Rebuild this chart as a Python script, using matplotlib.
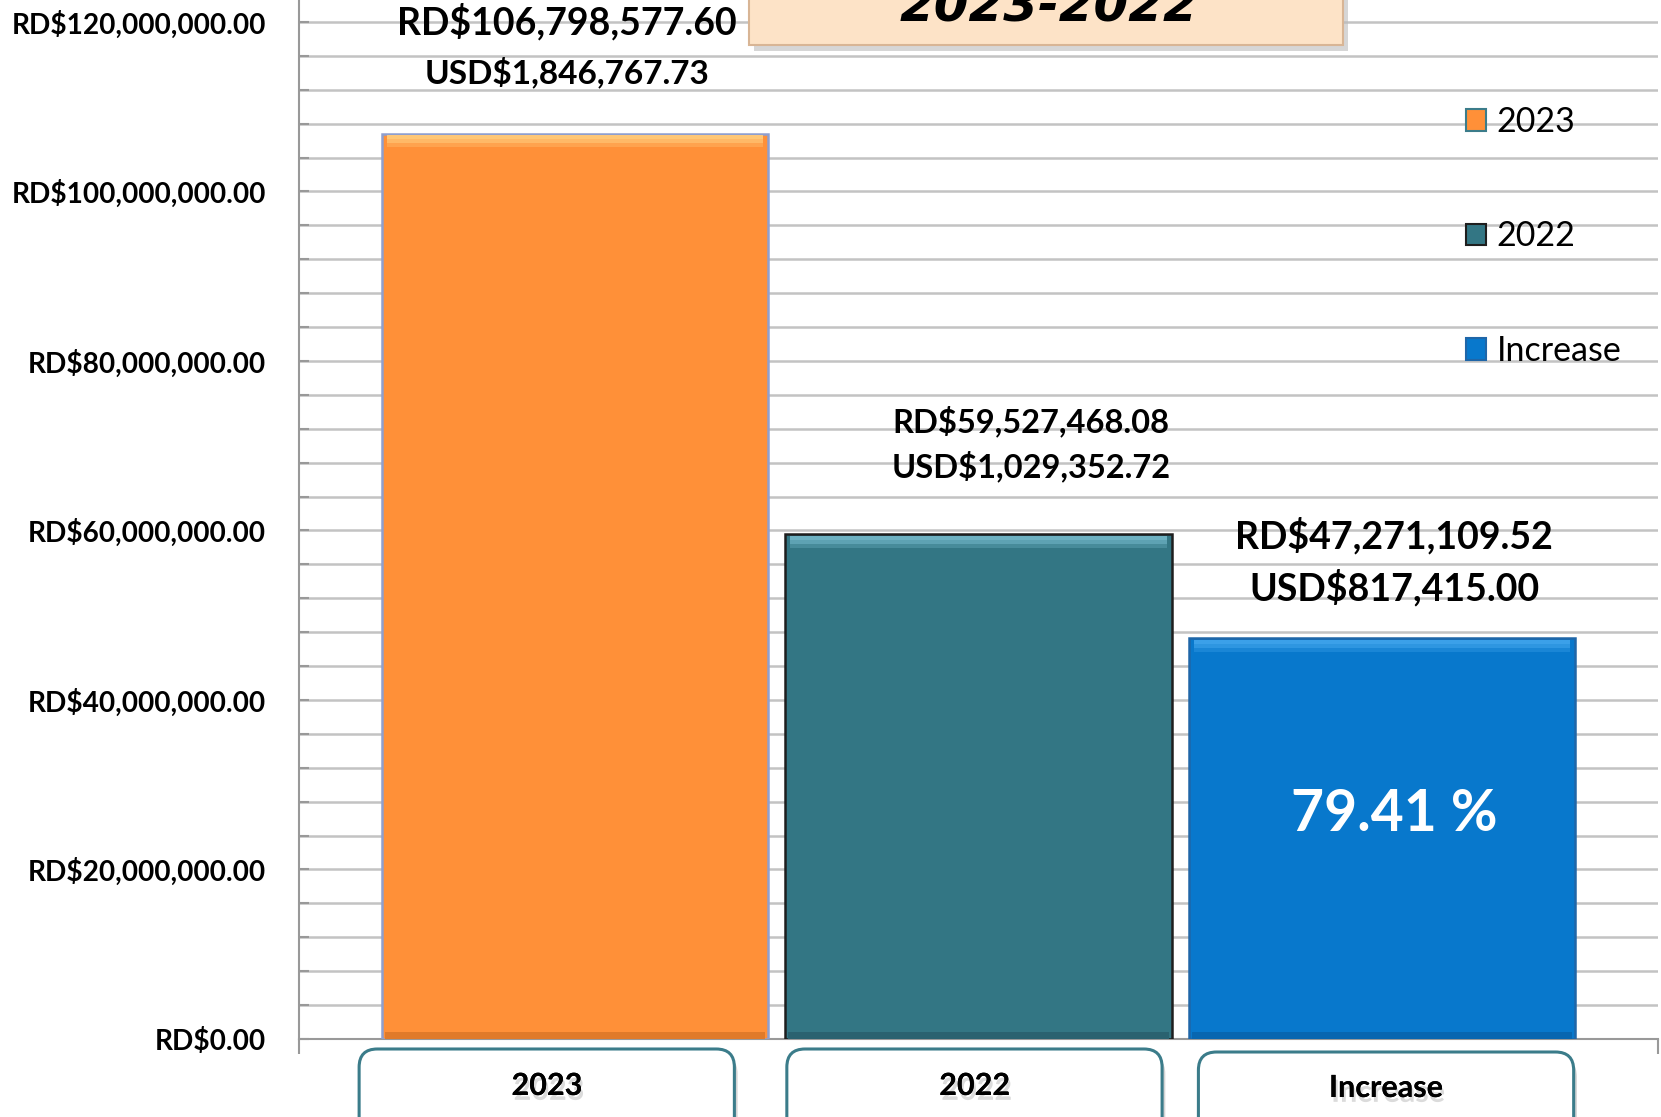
import matplotlib
matplotlib.use("Agg")
import matplotlib.pyplot as plt
import matplotlib.patheffects as pe
from matplotlib.patches import FancyBboxPatch, Patch
from matplotlib.transforms import blended_transform_factory
from matplotlib.ticker import MultipleLocator, FuncFormatter
import numpy as np

# ---- data ----
categories = ["2023", "2022", "Increase"]
values_rd = [106798577.60, 59527468.08, 47271109.52]
rd_labels = ["RD$106,798,577.60", "RD$59,527,468.08", "RD$47,271,109.52"]
usd_labels = ["USD$1,846,767.73", "USD$1,029,352.72", "USD$817,415.00"]
pct_label = "79.41 %"
title_text = "2023-2022"

# ---- style ----
colors = ["#FF9038", "#337684", "#0878CC"]
highlights = ["#FFC978", "#6FB3C4", "#3DA2EA"]
edgecolors = ["#8E9FCF", "#1E1E1E", "#1F66A8"]
FONT = "Lato"
plt.rcParams["font.family"] = [FONT, "DejaVu Sans"]

W, H = 1661, 1117
fig = plt.figure(figsize=(W / 100, H / 100), dpi=100)
fig.patch.set_facecolor("white")

ax_left, ax_right = 299, 1658
ax_bottom_px, ax_top_px = 1039, -12
ax = fig.add_axes([ax_left / W, (H - ax_bottom_px) / H,
                   (ax_right - ax_left) / W, (ax_bottom_px - ax_top_px) / H])

x = np.arange(len(categories))
bw = 0.958
ax.set_xlim(-0.684, 2.684)
ax.set_ylim(0, 124e6)

# gridlines
ax.yaxis.set_major_locator(MultipleLocator(20e6))
ax.yaxis.set_minor_locator(MultipleLocator(4e6))
ax.grid(True, which="both", axis="y", color="#C3C3C3", lw=1.8, zorder=0)
ax.set_axisbelow(True)

ax.yaxis.set_major_formatter(FuncFormatter(lambda v, p: f"RD${v:,.2f}"))
ax.tick_params(axis="y", which="both", direction="in", length=7, width=1.5,
               color="#999999", pad=24)
ax.tick_params(axis="y", which="major", labelsize=20.2)
for lab in ax.get_yticklabels():
    lab.set_fontweight("bold")
ax.set_xticks([-0.684, 2.684])
ax.set_xticklabels(["", ""])
ax.tick_params(axis="x", direction="out", length=11, width=1.5, color="#999999")

for s in ["top", "right"]:
    ax.spines[s].set_visible(False)
for s in ["left", "bottom"]:
    ax.spines[s].set_color("#999999")
    ax.spines[s].set_linewidth(1.5)

# bars
bars = ax.bar(x, values_rd, width=bw, color=colors, edgecolor=edgecolors,
              linewidth=1.8, zorder=3)
# bevel highlight on top of each bar (gradient-like bands)
for frac, alpha in [(1.4e6, 0.35), (0.9e6, 0.6), (0.45e6, 0.9)]:
    ax.bar(x, [frac] * 3, bottom=np.array(values_rd) - frac - 0.2e6,
           width=bw * 0.975, color=highlights, alpha=alpha, linewidth=0, zorder=4)
# subtle darker band at bottom
ax.bar(x, [0.8e6] * 3, bottom=0, width=bw * 0.985,
       color=["#E07A2A", "#2A6270", "#0866B0"], linewidth=0, zorder=4)

# value labels
rd_off = [11.7e6, 12.1e6, 10.6e6]
usd_off = [5.9e6, 6.8e6, 4.5e6]
dx = [-0.02, 0.13, 0.03]
rd_size = [27, 23.5, 27]
usd_size = [24, 23.5, 27]
for i in range(3):
    ax.text(x[i] + dx[i], values_rd[i] + rd_off[i], rd_labels[i], ha="center",
            va="baseline", fontsize=rd_size[i], fontweight="bold", color="black",
            zorder=6, clip_on=False)
    ax.text(x[i] + dx[i], values_rd[i] + usd_off[i], usd_labels[i], ha="center",
            va="baseline", fontsize=usd_size[i], fontweight="bold", color="black",
            zorder=6, clip_on=False)

ax.text(x[2] + 0.03, 24.5e6, pct_label, ha="center", va="baseline", fontsize=41,
        fontweight="bold", color="white", zorder=6)

# category boxes below axis
trans = blended_transform_factory(ax.transData, fig.transFigure)
box_dx = [-0.07, -0.01, 0.01]
box_top = [1 - 1049 / H, 1 - 1049 / H, 1 - 1052 / H]
box_w = 0.93
for i, cat in enumerate(categories):
    cx = x[i] + box_dx[i]
    bot = -0.05
    for off, col, z in [((0.008, -0.006), "#D5D5D5", 1), ((0, 0), "white", 2)]:
        p = FancyBboxPatch((cx - box_w / 2 + off[0], bot + off[1]), box_w,
                           box_top[i] - bot,
                           boxstyle="round,pad=0,rounding_size=0.045",
                           mutation_aspect=0.361,
                           transform=trans, clip_on=False,
                           facecolor=col,
                           edgecolor="#3B7C8A" if z == 2 else "none",
                           linewidth=2.2, zorder=z)
        fig.add_artist(p)
    fig.text(cx, 1 - (1086 if i < 2 else 1088) / H, cat, transform=trans,
             ha="center", va="center", fontsize=22, fontweight="bold",
             color="black", zorder=5,
             path_effects=[pe.withSimplePatchShadow(offset=(1.5, -3.5),
                                                    shadow_rgbFace="#999999",
                                                    alpha=0.35),
                           pe.Normal()])

# legend
handles = [Patch(facecolor=colors[i], edgecolor=["#3B7C8A", "#1E1E1E", "#1F66A8"][i],
                 linewidth=1.5) for i in range(3)]
leg = fig.legend(handles, categories, loc="upper left",
                 bbox_to_anchor=(1466 / W, 1 - 106 / H), frameon=False,
                 fontsize=24.5, handlelength=0.6, handleheight=0.6,
                 handletextpad=0.3, labelspacing=2.42, borderpad=0,
                 borderaxespad=0)

# title box (partially cropped at top, as in the source)
tb_l, tb_r, tb_b = 749, 1343, 1 - 44.5 / H
shadow = FancyBboxPatch((tb_l / W + 0.003, tb_b - 0.006), (tb_r - tb_l) / W, 0.1,
                        boxstyle="square,pad=0", transform=fig.transFigure,
                        facecolor="#BBBBBB", edgecolor="none", alpha=0.6, zorder=7)
fig.add_artist(shadow)
tbox = FancyBboxPatch((tb_l / W, tb_b), (tb_r - tb_l) / W, 0.1,
                      boxstyle="square,pad=0", transform=fig.transFigure,
                      facecolor="#FDE3C7", edgecolor="#D8B595", linewidth=1.5,
                      zorder=8)
fig.add_artist(tbox)
fig.text(1049 / W, 1 - 21 / H, title_text, ha="center", va="baseline",
         fontsize=36, fontweight="bold", fontstyle="oblique", color="black",
         family="DejaVu Sans", zorder=9)

fig.savefig("out.png", dpi=100, facecolor="white")
